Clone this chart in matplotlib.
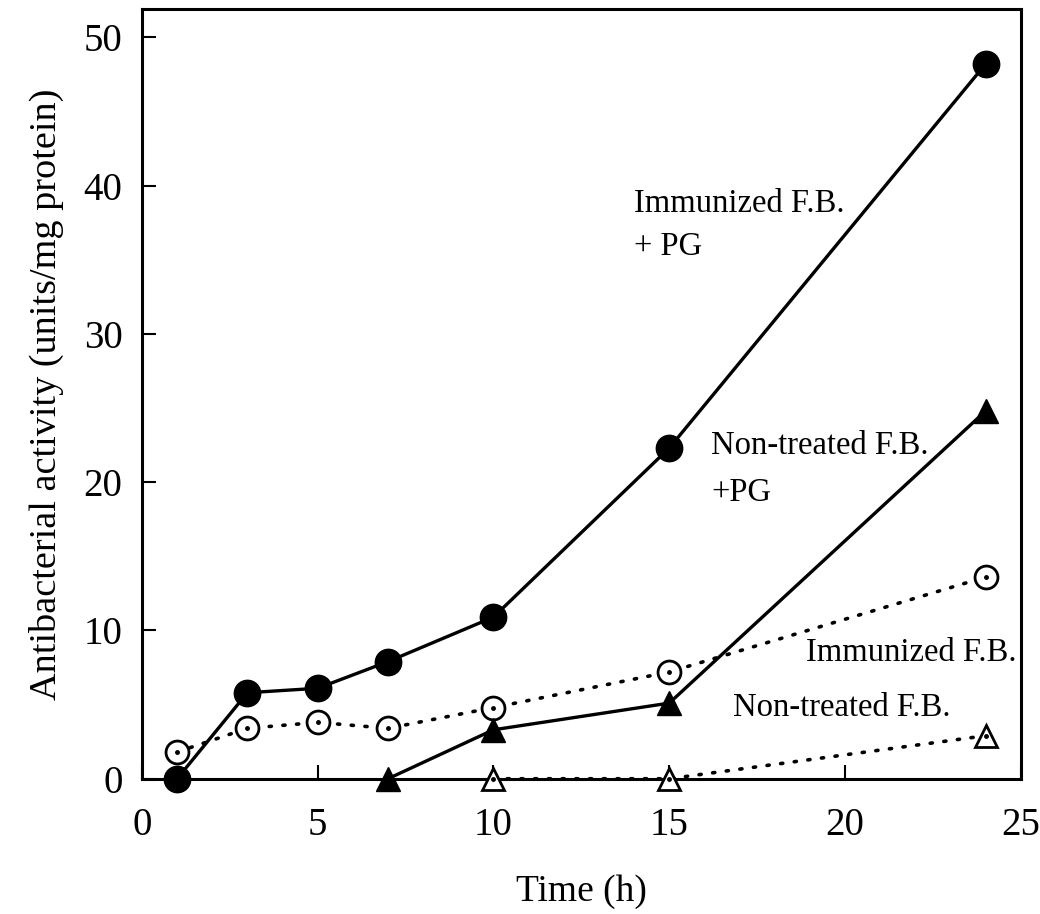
import matplotlib
matplotlib.use('Agg')
import matplotlib.pyplot as plt

plt.rcParams['font.family'] = ['Liberation Serif', 'DejaVu Serif']

# time points (h)
t_imm_pg = [1, 3, 5, 7, 10, 15, 24]
imm_pg = [0, 5.8, 6.1, 7.9, 10.9, 22.3, 48.2]

t_non_pg = [7, 10, 15, 24]
non_pg = [0, 3.3, 5.1, 24.8]

t_imm = [1, 3, 5, 7, 10, 15, 24]
imm = [1.8, 3.4, 3.8, 3.4, 4.8, 7.2, 13.6]

t_non = [10, 15, 24]
non = [0, 0, 2.9]

labels = ['Immunized F.B.\n+ PG', 'Non-treated F.B.\n+PG', 'Immunized F.B.', 'Non-treated F.B.']

fig = plt.figure(figsize=(10.4, 9.14), dpi=100)
ax = fig.add_axes([0.1365, 0.148, 0.845, 0.842])

dots = (0, (0.6, 3.2))
ax.plot(t_imm, imm, linestyle=dots, color='k', lw=2.6, dash_capstyle='round',
        marker='o', ms=16.5, mfc='white', mec='k', mew=2, clip_on=False, zorder=3)
ax.plot(t_imm, imm, linestyle='none', marker='o', ms=2.5, color='k', clip_on=False, zorder=4)
ax.plot(t_non, non, linestyle=dots, color='k', lw=2.6, dash_capstyle='round',
        marker='^', ms=16.5, mfc='white', mec='k', mew=2, clip_on=False, zorder=3)
ax.plot(t_non, non, linestyle='none', marker='o', ms=2.5, color='k', clip_on=False, zorder=4)
ax.plot(t_imm_pg, imm_pg, '-', color='k', lw=2.4, marker='o', ms=19,
        clip_on=False, zorder=5)
ax.plot(t_non_pg, non_pg, '-', color='k', lw=2.4, marker='^', ms=17,
        clip_on=False, zorder=5)

ax.text(14.0, 39.8, labels[0], fontsize=23.5, linespacing=1.55, va='top')
ax.text(16.2, 23.5, labels[1], fontsize=23.5, linespacing=1.7, va='top')
ax.text(18.9, 9.5, labels[2], fontsize=23.5, va='top')
ax.text(16.8, 5.8, labels[3], fontsize=23.5, va='top')

ax.set_xlim(0, 25)
ax.set_ylim(0, 51.9)
ax.set_xticks([0, 5, 10, 15, 20, 25])
ax.set_yticks([0, 10, 20, 30, 40, 50])
ax.tick_params(direction='in', length=10, width=1.5, labelsize=28, top=False, right=False)
ax.tick_params(axis='x', pad=20)
ax.tick_params(axis='y', pad=14)
for s in ax.spines.values():
    s.set_linewidth(2.2)

ax.set_xlabel('Time (h)', fontsize=27, labelpad=22)
ax.set_ylabel('Antibacterial activity (units/mg protein)', fontsize=27.5, labelpad=14)

fig.savefig('out.png', dpi=100)
